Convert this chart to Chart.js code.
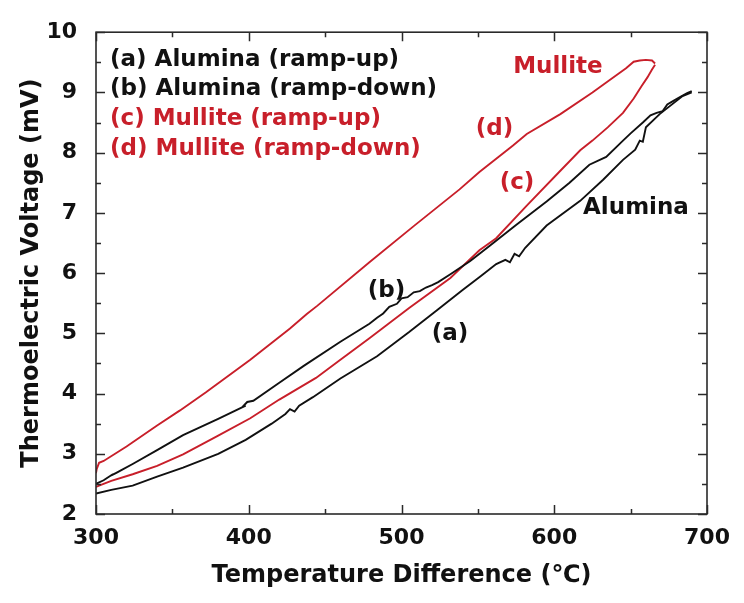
<!DOCTYPE html>
<html><head><meta charset="utf-8">
<script src="https://cdn.jsdelivr.net/npm/chart.js@4.4.1/dist/chart.umd.min.js"></script>
<style>html,body{margin:0;padding:0;background:#fff;}canvas{display:block;}</style>
</head><body>
<canvas id="c" width="744" height="603"></canvas>
<script>
// ---- data (Temperature difference in deg C, thermoelectric voltage in mV) ----
const aluminaUpT = [300, 310, 324, 340, 357, 380, 398, 415, 424, 427, 430, 433, 442, 460, 484, 505, 523, 540, 552, 562, 568, 571, 574, 577, 581, 595, 617, 632, 645, 653, 656, 658, 660, 669, 684, 690];
const aluminaUpV = [2.34, 2.40, 2.47, 2.62, 2.77, 3.00, 3.23, 3.50, 3.66, 3.74, 3.70, 3.80, 3.94, 4.25, 4.62, 5.02, 5.38, 5.72, 5.95, 6.15, 6.22, 6.18, 6.32, 6.28, 6.42, 6.79, 7.20, 7.55, 7.88, 8.05, 8.20, 8.18, 8.42, 8.64, 8.94, 9.00];

const aluminaDownT = [690, 687, 682, 678, 674, 671, 667, 663, 658, 650, 645, 634, 623, 610, 595, 575, 558, 545, 532, 524, 520, 516, 512, 508, 504, 500, 497, 492, 488, 484, 479, 460, 436, 420, 403, 399, 396, 398, 380, 357, 340, 324, 316, 313, 310, 311, 305, 300];
const aluminaDownV = [9.02, 8.99, 8.92, 8.86, 8.80, 8.69, 8.66, 8.62, 8.50, 8.32, 8.20, 7.93, 7.80, 7.50, 7.19, 6.80, 6.46, 6.20, 5.98, 5.85, 5.80, 5.76, 5.70, 5.68, 5.60, 5.58, 5.49, 5.44, 5.33, 5.26, 5.16, 4.86, 4.46, 4.18, 3.88, 3.86, 3.78, 3.80, 3.58, 3.31, 3.06, 2.83, 2.72, 2.68, 2.64, 2.66, 2.56, 2.50];

const mulliteUpT = [300, 302, 310, 324, 340, 357, 380, 401, 420, 444, 460, 479, 505, 532, 551, 562, 582, 604, 617, 625, 635, 645, 652, 657, 661, 664, 666];
const mulliteUpV = [2.45, 2.47, 2.55, 2.66, 2.80, 2.99, 3.30, 3.59, 3.90, 4.26, 4.56, 4.92, 5.42, 5.92, 6.38, 6.58, 7.12, 7.70, 8.04, 8.20, 8.42, 8.66, 8.90, 9.10, 9.25, 9.38, 9.46];

const mulliteDownT = [666, 664, 660, 656, 652, 647, 637, 625, 604, 582, 573, 551, 538, 508, 479, 445, 438, 427, 401, 372, 355, 340, 320, 305, 302, 300.5, 300];
const mulliteDownV = [9.48, 9.53, 9.54, 9.53, 9.51, 9.40, 9.22, 9.00, 8.64, 8.31, 8.12, 7.68, 7.39, 6.78, 6.18, 5.46, 5.32, 5.08, 4.56, 4.02, 3.72, 3.47, 3.12, 2.88, 2.85, 2.75, 2.68];

const xTickValues = [300, 400, 500, 600, 700];
const yTickValues = [2, 3, 4, 5, 6, 7, 8, 9, 10];

const seriesNames = ['(a) Alumina (ramp-up)', '(b) Alumina (ramp-down)', '(c) Mullite (ramp-up)', '(d) Mullite (ramp-down)'];
const xTitle = 'Temperature Difference (\u2103)';
const yTitle = 'Thermoelectric Voltage (mV)';

// in-plot labels (text, T, V)
const noteTexts = ['Mullite', '(d)', '(c)', 'Alumina', '(b)', '(a)'];
const noteT = [602.4, 560.9, 575.6, 653.5, 490.2, 531.7];
const noteV = [9.42, 8.40, 7.50, 7.08, 5.71, 4.98];
const noteIsMullite = [true, true, true, false, false, false];

// legend anchor (data coordinates)
const legendT = 309.2;
const legendV = [9.54, 9.05, 8.55, 8.06];

// ---- styles ----
const RED = '#c81f2a';
const BLACK = '#111111';
const FONT = 'DejaVu Sans';
const seriesColors = [BLACK, BLACK, RED, RED];

function pts(T, V) { return T.map((t, i) => ({x: t, y: V[i]})); }
const seriesData = [pts(aluminaUpT, aluminaUpV), pts(aluminaDownT, aluminaDownV), pts(mulliteUpT, mulliteUpV), pts(mulliteDownT, mulliteDownV)];

const decor = {
  id: 'decor',
  afterDraw(chart) {
    const {ctx, chartArea: a, scales: {x, y}} = chart;
    ctx.save();
    ctx.strokeStyle = '#2a2a2a';
    ctx.lineWidth = 1.6;
    ctx.strokeRect(a.left, a.top, a.right - a.left, a.bottom - a.top);
    ctx.lineWidth = 1.5;
    const MAJ = 9, MIN = 5;
    const xt = x.ticks.map(t => t.value), yt = y.ticks.map(t => t.value);
    const drawX = (v, len) => {
      const px = Math.round(x.getPixelForValue(v)) + 0.5;
      ctx.beginPath();
      ctx.moveTo(px, a.bottom); ctx.lineTo(px, a.bottom - len);
      ctx.moveTo(px, a.top); ctx.lineTo(px, a.top + len);
      ctx.stroke();
    };
    const drawY = (v, len) => {
      const py = Math.round(y.getPixelForValue(v)) + 0.5;
      ctx.beginPath();
      ctx.moveTo(a.left, py); ctx.lineTo(a.left + len, py);
      ctx.moveTo(a.right, py); ctx.lineTo(a.right - len, py);
      ctx.stroke();
    };
    xt.forEach((v, i) => { drawX(v, MAJ); if (i < xt.length - 1) drawX((v + xt[i + 1]) / 2, MIN); });
    yt.forEach((v, i) => { drawY(v, MAJ); if (i < yt.length - 1) drawY((v + yt[i + 1]) / 2, MIN); });

    // legend text
    ctx.font = 'bold 23px "' + FONT + '"';
    ctx.textAlign = 'left';
    ctx.textBaseline = 'middle';
    chart.data.datasets.forEach((ds, i) => {
      ctx.fillStyle = ds.borderColor;
      ctx.fillText(ds.label, x.getPixelForValue(legendT), y.getPixelForValue(legendV[i]));
    });
    // in-plot notes
    ctx.textAlign = 'center';
    noteTexts.forEach((t, i) => {
      ctx.fillStyle = noteIsMullite[i] ? RED : BLACK;
      ctx.fillText(t, x.getPixelForValue(noteT[i]), y.getPixelForValue(noteV[i]));
    });
    ctx.restore();
  }
};

new Chart(document.getElementById('c'), {
  type: 'line',
  data: {
    datasets: seriesData.map((d, i) => ({
      label: seriesNames[i],
      data: d,
      borderColor: seriesColors[i],
      backgroundColor: seriesColors[i],
      borderWidth: 1.9,
      pointRadius: 0,
      tension: 0,
      fill: false
    }))
  },
  options: {
    responsive: false,
    devicePixelRatio: 1,
    animation: false,
    layout: {padding: {left: 0, top: 23, right: 37, bottom: 0}},
    plugins: {legend: {display: false}, tooltip: {enabled: false}},
    scales: {
      x: {
        type: 'linear', min: 300, max: 700,
        afterBuildTicks(s) { s.ticks = xTickValues.map(v => ({value: v})); },
        afterFit(s) { s.height = 89; },
        ticks: {font: {family: FONT, weight: 'bold', size: 22}, color: BLACK, padding: 11, maxRotation: 0, autoSkip: false},
        grid: {display: false, drawTicks: false},
        border: {display: false},
        title: {display: true, text: xTitle, color: BLACK, font: {family: FONT, weight: 'bold', size: 24}, padding: {top: 0, bottom: 13}}
      },
      y: {
        type: 'linear', min: 2, max: 10,
        afterBuildTicks(s) { s.ticks = yTickValues.map(v => ({value: v})); },
        afterFit(s) { s.width = 96; },
        ticks: {font: {family: FONT, weight: 'bold', size: 22}, color: BLACK, padding: 19, autoSkip: false},
        grid: {display: false, drawTicks: false},
        border: {display: false},
        title: {display: true, text: yTitle, color: BLACK, font: {family: FONT, weight: 'bold', size: 24}, padding: {top: 17, bottom: 0}}
      }
    }
  },
  plugins: [decor]
});
</script>
</body></html>
